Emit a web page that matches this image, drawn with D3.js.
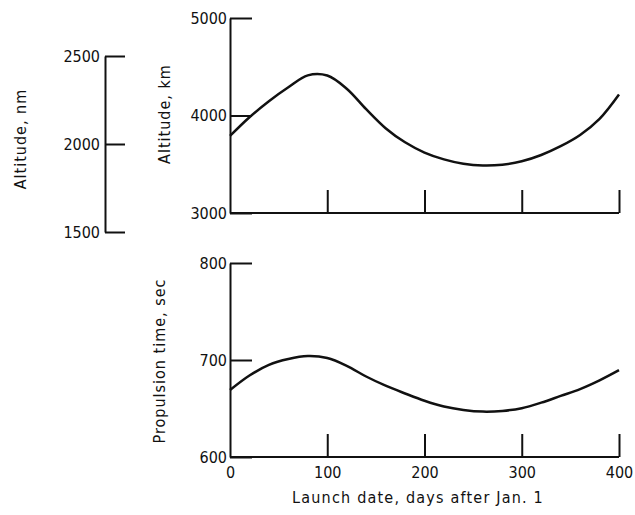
<!DOCTYPE html>
<html>
<head>
<meta charset="utf-8">
<script src="https://cdn.jsdelivr.net/npm/d3@7/dist/d3.min.js"></script>
<style>
  html, body { margin: 0; padding: 0; background: #fff; }
  svg { display: block; }
  text { font-family: "DejaVu Sans Condensed", "DejaVu Sans", sans-serif; font-stretch: condensed; fill: #111; }
  .domain, .tick line { stroke: #111; stroke-width: 2; }
</style>
</head>
<body>
<svg id="chart" width="635" height="515"></svg>
<script>
// Launch date, days after Jan. 1
const launchDays = [0, 20, 40, 60, 80, 100, 120, 140, 160, 180, 200, 220, 240, 260, 280, 300, 320, 340, 360, 380, 400];
// Orbit altitude, km
const altitudeKm = [3790, 3982, 4147, 4290, 4412, 4410, 4275, 4065, 3870, 3725, 3620, 3550, 3505, 3487, 3495, 3530, 3595, 3685, 3800, 3965, 4215];
// Propulsion time, sec
const propulsionSec = [669, 684, 695, 701, 704, 702, 694, 683, 673.5, 665.5, 658, 652, 648.5, 646.8, 647.5, 650.3, 656, 663, 670, 679, 689.5];

const dayTicks = [0, 100, 200, 300, 400];
const kmTicks = [3000, 4000, 5000];
const nmTicks = [1500, 2000, 2500];
const secTicks = [600, 700, 800];

const svg = d3.select("#chart");

const x = d3.scaleLinear().domain([0, 400]).range([230, 619]);
const yKm = d3.scaleLinear().domain([3000, 5000]).range([213, 18]);
const yNm = d3.scaleLinear().domain([1500, 2500]).range([232, 56]);
const ySec = d3.scaleLinear().domain([600, 800]).range([457, 263]);

function styleAxis(g) {
  g.selectAll("text").style("font-size", "16px");
}

// Altitude, nm companion scale
svg.append("g")
  .attr("transform", "translate(105,0)")
  .call(d3.axisLeft(yNm).tickValues(nmTicks).tickFormat(d3.format("d"))
    .tickSizeInner(-20).tickSizeOuter(0).tickPadding(5))
  .call(styleAxis);

// Upper panel: altitude, km
svg.append("g")
  .attr("transform", "translate(230,0)")
  .call(d3.axisLeft(yKm).tickValues(kmTicks).tickFormat(d3.format("d"))
    .tickSizeInner(-22).tickSizeOuter(0).tickPadding(3))
  .call(styleAxis);

svg.append("g")
  .attr("transform", "translate(0,213)")
  .call(d3.axisBottom(x).tickValues(dayTicks.slice(1)).tickFormat("")
    .tickSizeInner(-23).tickSizeOuter(0))
  .call(g => g.select(".domain").attr("d", `M${x(0)},0H${x(400)}`));

// Lower panel: propulsion time, sec
svg.append("g")
  .attr("transform", "translate(230,0)")
  .call(d3.axisLeft(ySec).tickValues(secTicks).tickFormat(d3.format("d"))
    .tickSizeInner(-22).tickSizeOuter(0).tickPadding(3))
  .call(styleAxis);

svg.append("g")
  .attr("transform", "translate(0,457)")
  .call(d3.axisBottom(x).tickValues(dayTicks).tickFormat(d3.format("d"))
    .tickSizeInner(-23).tickSizeOuter(0).tickPadding(10))
  .call(g => g.select(".domain").attr("d", `M${x(0)},0H${x(400)}`))
  .call(g => g.selectAll(".tick").filter(d => d === 0).select("line").remove())
  .call(styleAxis);

// Curves
const kmLine = d3.line()
  .x((d, i) => x(launchDays[i]))
  .y(d => yKm(d))
  .curve(d3.curveCatmullRom.alpha(0.5));
svg.append("path")
  .attr("d", kmLine(altitudeKm))
  .attr("fill", "none").attr("stroke", "#111").attr("stroke-width", 2.5);

const secLine = d3.line()
  .x((d, i) => x(launchDays[i]))
  .y(d => ySec(d))
  .curve(d3.curveCatmullRom.alpha(0.5));
svg.append("path")
  .attr("d", secLine(propulsionSec))
  .attr("fill", "none").attr("stroke", "#111").attr("stroke-width", 2.5);

// Axis titles
function vTitle(txt, cx, cy) {
  svg.append("text")
    .attr("transform", `translate(${cx},${cy}) rotate(-90)`)
    .attr("text-anchor", "middle")
    .attr("dominant-baseline", "central")
    .style("font-size", "16px")
    .style("letter-spacing", "1px")
    .text(txt);
}
vTitle("Altitude, nm", 20, 139);
vTitle("Altitude, km", 164, 114);
vTitle("Propulsion time, sec", 159, 361);

svg.append("text")
  .attr("x", 418).attr("y", 497)
  .attr("text-anchor", "middle")
  .attr("dominant-baseline", "central")
  .style("font-size", "16px")
  .style("letter-spacing", "1.2px")
  .text("Launch date, days after Jan. 1");
</script>
</body>
</html>
